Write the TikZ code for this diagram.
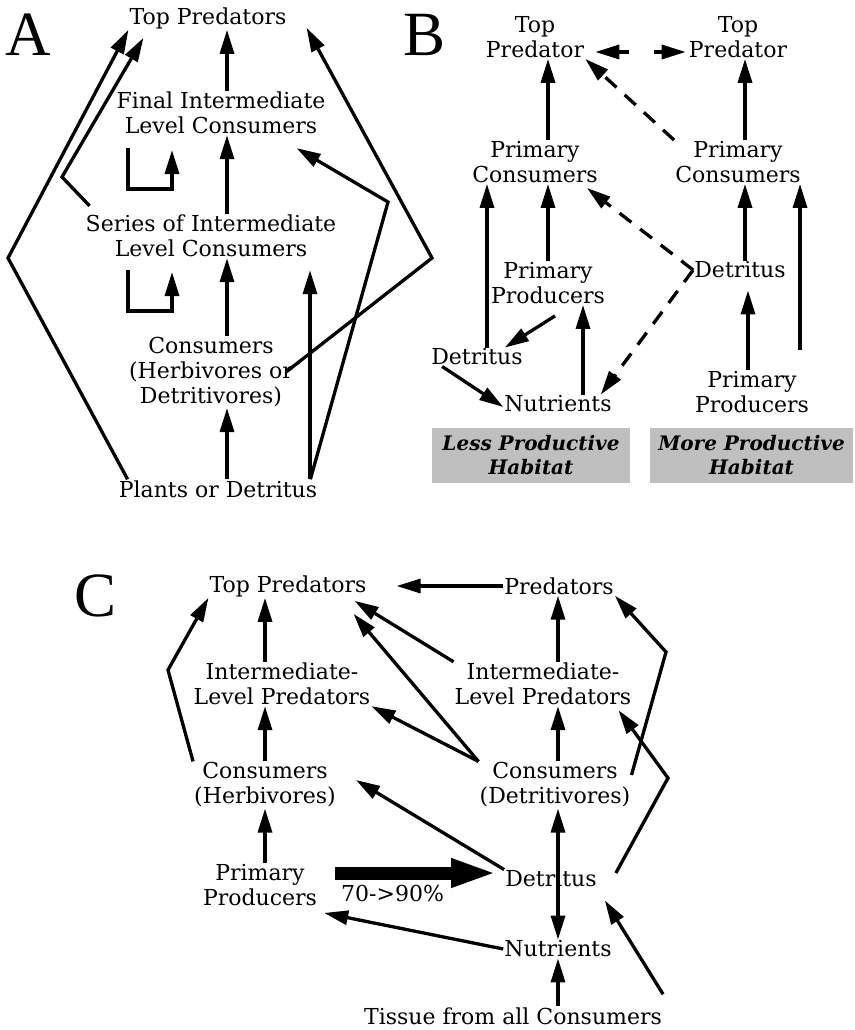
\documentclass[tikz,border=0pt]{standalone}
\usepackage{fontspec}
\setmainfont{DejaVu Serif}
\newfontfamily\panelfont{Liberation Serif}
\usetikzlibrary{arrows.meta}

\tikzset{
  >={Triangle[length=24pt,width=14pt]},
  lvl/.style={align=center, inner sep=1pt, font=\fontsize{22}{25}\selectfont},
  panel/.style={inner sep=0pt, font=\panelfont\fontsize{63}{63}\selectfont},
  habitat/.style={lvl, fill=black!25, minimum height=55pt, font=\bfseries\itshape\fontsize{20}{24}\selectfont},
  flow/.style={->, line width=3.3pt},
  dashflow/.style={flow, dash pattern=on 15pt off 11pt},
  bigflow/.style={line width=13pt, -{Triangle[length=46pt,width=26pt]}},
}

\begin{document}
\begin{tikzpicture}[x=1pt, y=-1pt]
    \useasboundingbox (0,0) rectangle (854,1030);

    % panel A
    \node[panel] (lA) at (28,35) {A};
    \node[lvl] (aTop) at (208,18) {Top Predators};
    \node[lvl] (aFin) at (221,113) {Final Intermediate\\Level Consumers};
    \node[lvl] (aSer) at (211,236) {Series of Intermediate\\Level Consumers};
    \node[lvl] (aCon) at (211,372) {Consumers\\(Herbivores or\\Detritivores)};
    \node[lvl] (aPla) at (218,489) {Plants or Detritus};

    \coordinate (aBendL) at (8,258);
    \coordinate (aBendS) at (62,177);
    \coordinate (aBendR) at (432,258);
    \coordinate (aBendP) at (388,202);

    \draw[flow] ([xshift=6pt]aFin.north) -- ([xshift=19pt]aTop.south);
    \draw[flow] ([xshift=16pt]aSer.north) -- ([xshift=6pt]aFin.south);
    \draw[flow] ([xshift=16pt]aCon.north) -- ([xshift=16pt]aSer.south);
    \draw[flow] ([xshift=9pt]aPla.north) -- ([xshift=16pt]aCon.south);
    \draw[flow, shorten >=12pt] ([xshift=92pt]aPla.north) -- ([xshift=99pt]aSer.south);

    \draw[flow] ([xshift=10pt]aPla.north west) -- (aBendL) -- (aTop.south west);
    \draw[flow] ([xshift=5pt,yshift=8pt]aSer.north west) -- (aBendS) -- ([xshift=15pt,yshift=-8pt]aTop.south west);
    \draw[flow] ([xshift=-8pt]aCon.east) -- (aBendR) -- ([xshift=19pt,yshift=2pt]aTop.south east);
    \draw[flow] ([xshift=-8pt]aPla.north east) -- (aBendP) -- ([xshift=-30pt,yshift=-13pt]aFin.south east);

    \foreach \y in {148,270}
    {
        \draw[flow] (128,\y) |- (172,\y+41) -- (172,\y+2);
    }

    % panel B
    \node[panel] (lB) at (425,35) {B};
    \node[lvl] (bTopL) at (535,37) {Top\\Predator};
    \node[lvl] (bTopR) at (738,37) {Top\\Predator};
    \node[lvl] (bPCL) at (535,162) {Primary\\Consumers};
    \node[lvl] (bPCR) at (738,162) {Primary\\Consumers};
    \node[lvl] (bPPL) at (548,283) {Primary\\Producers};
    \node[lvl] (bDetR) at (740,270) {Detritus};
    \node[lvl] (bDetL) at (477,357) {Detritus};
    \node[lvl] (bNut) at (558,404) {Nutrients};
    \node[lvl] (bPPR) at (752,392) {Primary\\Producers};
    \node[habitat, minimum width=198pt] (bLess) at (531,455.5) {Less Productive\\Habitat};
    \node[habitat, minimum width=203pt] (bMore) at (751.5,455.5) {More Productive\\Habitat};

    \draw[dashflow, <->, dash pattern=on 11pt off 25pt] ([xshift=10pt,yshift=-15pt]bTopL.east) -- ([xshift=-2pt,yshift=-15pt]bTopR.west);
    \draw[flow] ([xshift=13pt]bPCL.north) -- ([xshift=13pt]bTopL.south);
    \draw[flow] ([xshift=7pt]bPCR.north) -- ([xshift=7pt]bTopR.south);
    \draw[dashflow] (bPCR.north west) -- (bTopL.south east);
    \draw[flow] ([xshift=10pt]bDetL.north) -- ([xshift=-48pt]bPCL.south);
    \draw[flow] (bPPL.north) -- ([xshift=13pt]bPCL.south);
    \draw[dashflow] (bDetR.west) -- ([xshift=-12pt,yshift=-4pt]bPCL.south east);
    \draw[dashflow] (bDetR.west) -- ([xshift=-12pt]bNut.north east);
    \draw[flow] ([xshift=5pt]bDetR.north) -- ([xshift=7pt]bPCR.south);
    \draw[flow] ([xshift=48pt,yshift=20pt]bPPR.north) -- ([xshift=62pt]bPCR.south);
    \draw[flow, shorten >=11pt] ([xshift=-4pt]bPPR.north) -- ([xshift=8pt]bDetR.south);
    \draw[flow] ([xshift=7pt,yshift=-11pt]bPPL.south) -- ([xshift=-19pt]bDetL.north east);
    \draw[flow] ([xshift=25pt]bNut.north) -- ([xshift=35pt]bPPL.south);
    \draw[flow] ([xshift=12pt]bDetL.south west) -- ([yshift=-3pt]bNut.west);

    % panel C
    \node[panel] (lC) at (96,596) {C};
    \node[lvl] (cTop) at (288,586) {Top Predators};
    \node[lvl] (cPred) at (559,586) {Predators};
    \node[lvl] (cIntL) at (282,684) {Intermediate-\\Level Predators};
    \node[lvl] (cIntR) at (543,684) {Intermediate-\\Level Predators};
    \node[lvl] (cConL) at (265,785) {Consumers\\(Herbivores)};
    \node[lvl] (cConR) at (555,785) {Consumers\\(Detritivores)};
    \node[lvl] (cPP) at (260,885) {Primary\\Producers};
    \node[lvl] (cDet) at (551,879) {Detritus};
    \node[lvl] (cNut) at (558,949) {Nutrients};
    \node[lvl] (cTis) at (513,1016) {Tissue from all Consumers};
    \node[lvl, anchor=west] (cPct) at (340,893) {70->90\%};

    \coordinate (cBendL) at (168,670);
    \coordinate (cBendP) at (666,652);
    \coordinate (cBendD) at (668,778);

    \draw[flow] (cPred.west) -- ([xshift=29pt]cTop.east);
    \draw[flow] ([xshift=-17pt]cIntL.north) -- ([xshift=-23pt]cTop.south);
    \draw[flow] ([xshift=15pt]cIntR.north) -- ([xshift=-1pt]cPred.south);
    \draw[flow] (cConL.north) -- ([xshift=-17pt]cIntL.south);
    \draw[flow] ([xshift=3pt]cConR.north) -- ([xshift=15pt]cIntR.south);
    \draw[flow] ([xshift=5pt]cPP.north) -- (cConL.south);
    \draw[flow] ([xshift=7pt]cDet.center) -- ([xshift=3pt]cConR.south);
    \draw[flow] ([xshift=7pt]cDet.center) -- (cNut.north);
    \draw[flow] (cConL.north west) -- (cBendL) -- (cTop.south west);
    \draw[flow] (cIntR.north west) -- ([xshift=-13pt,yshift=-3pt]cTop.south east);
    \draw[flow] (cConR.north west) -- ([xshift=-14pt,yshift=-16pt]cTop.south east);
    \draw[flow] (cConR.north west) -- (cIntL.south east);
    \draw[flow] (cDet.north west) -- ([xshift=19pt,yshift=5pt]cConL.east);
    \draw[bigflow] ([xshift=17pt,yshift=12pt]cPP.east) -- ([xshift=-7pt,yshift=6pt]cDet.west);
    \draw[flow] (cNut.west) -- ([xshift=6pt,yshift=-6pt]cPP.south east);
    \draw[flow] ([xshift=45pt]cTis.north) -- (cNut.south);
    \draw[flow] ([yshift=12pt]cTis.north east) -- ([xshift=7pt,yshift=-12pt]cDet.south east);
    \draw[flow] ([yshift=10pt]cConR.east) -- (cBendP) -- (cPred.south east);
    \draw[flow] ([xshift=18pt,yshift=6pt]cDet.east) -- (cBendD) -- ([xshift=-14pt,yshift=-4pt]cIntR.south east);
\end{tikzpicture}
\end{document}
